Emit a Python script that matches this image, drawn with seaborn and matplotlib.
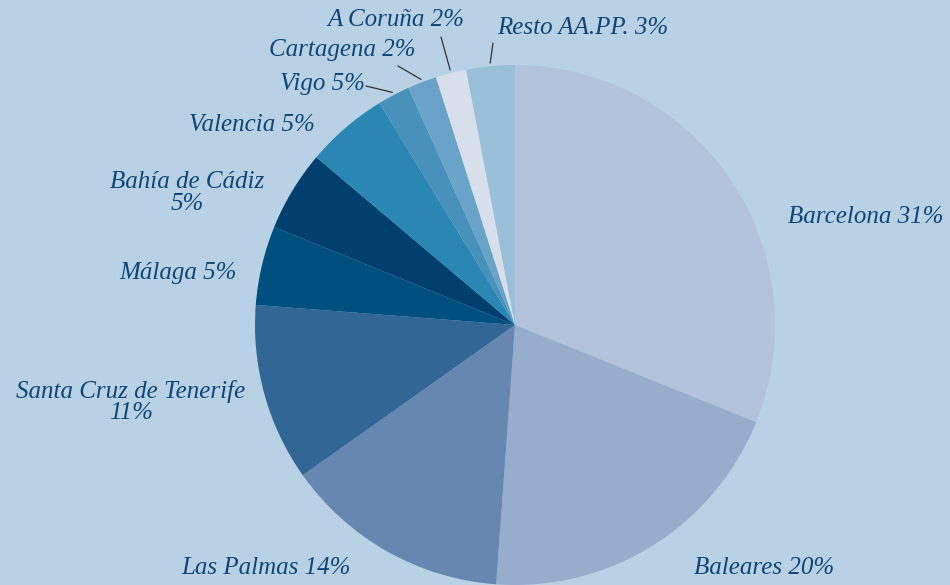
import matplotlib.pyplot as plt
import seaborn as sns
import numpy as np

# slice shares, clockwise from 12 o'clock
ports = ['Barcelona', 'Baleares', 'Las Palmas', 'Santa Cruz de Tenerife', 'Málaga',
         'Bahía de Cádiz', 'Valencia', 'Vigo', 'Cartagena', 'A Coruña', 'Resto AA.PP.']
shares = [31, 20, 14, 11, 4.9, 5.0, 5.1, 2.0, 1.8, 1.9, 3.0]
labels = ['Barcelona 31%', 'Baleares 20%', 'Las Palmas 14%', 'Santa Cruz de Tenerife\n11%',
          'Málaga 5%', 'Bahía de Cádiz\n5%', 'Valencia 5%', 'Vigo 5%', 'Cartagena 2%',
          'A Coruña 2%', 'Resto AA.PP. 3%']
colors = ['#b3c3db', '#96aecb', '#6688b0', '#326694', '#00507f', '#003f70',
          '#2a87b4', '#4791bb', '#6aa3c8', '#d6dfea', '#9abfd9']

bg = '#b8d1e5'
txt = '#0f4676'

sns.set_style('white')
plt.rcParams['font.family'] = ['Liberation Serif', 'DejaVu Serif']

fig = plt.figure(figsize=(9.5, 5.85), dpi=100)
fig.patch.set_facecolor(bg)
ax = fig.add_axes([0, 0, 1, 1])
ax.set_facecolor(bg)

H = 585
cx, cy, r = 515, H - 325, 260
wedges, _ = ax.pie(shares, colors=sns.color_palette(colors), startangle=90,
                   counterclock=False, center=(cx, cy), radius=r,
                   wedgeprops=dict(linewidth=0), frame=True)
ax.axis('off')
ax.set_xlim(0, 950)
ax.set_ylim(0, 585)
ax.set_aspect('equal')

# label positions (pixel coords, y from top)
pos = {
    'Barcelona': (866, 217),
    'Baleares': (764, 568),
    'Las Palmas': (266, 568),
    'Santa Cruz de Tenerife': (131, 402),
    'Málaga': (178, 273),
    'Bahía de Cádiz': (187, 193),
    'Valencia': (252, 125),
    'Vigo': (322, 84),
    'Cartagena': (342, 50),
    'A Coruña': (396, 20),
    'Resto AA.PP.': (583, 28),
}
for name, lab in zip(ports, labels):
    x, y = pos[name]
    ax.text(x, H - y, lab, ha='center', va='center', fontsize=18, style='italic',
            color=txt, linespacing=0.95)

# leader lines for the small slices
leaders = {'Vigo': (366, 86), 'Cartagena': (398, 66), 'A Coruña': (441, 37), 'Resto AA.PP.': (493, 43)}
for w, name in zip(wedges, ports):
    if name in leaders:
        ang = np.deg2rad((w.theta1 + w.theta2) / 2)
        x0, y0 = cx + (r + 3) * np.cos(ang), cy + (r + 3) * np.sin(ang)
        x1, y1 = leaders[name]
        ax.plot([x0, x1], [y0, H - y1], color='#333333', lw=0.9)

plt.savefig('out.png', dpi=100, facecolor=bg)
